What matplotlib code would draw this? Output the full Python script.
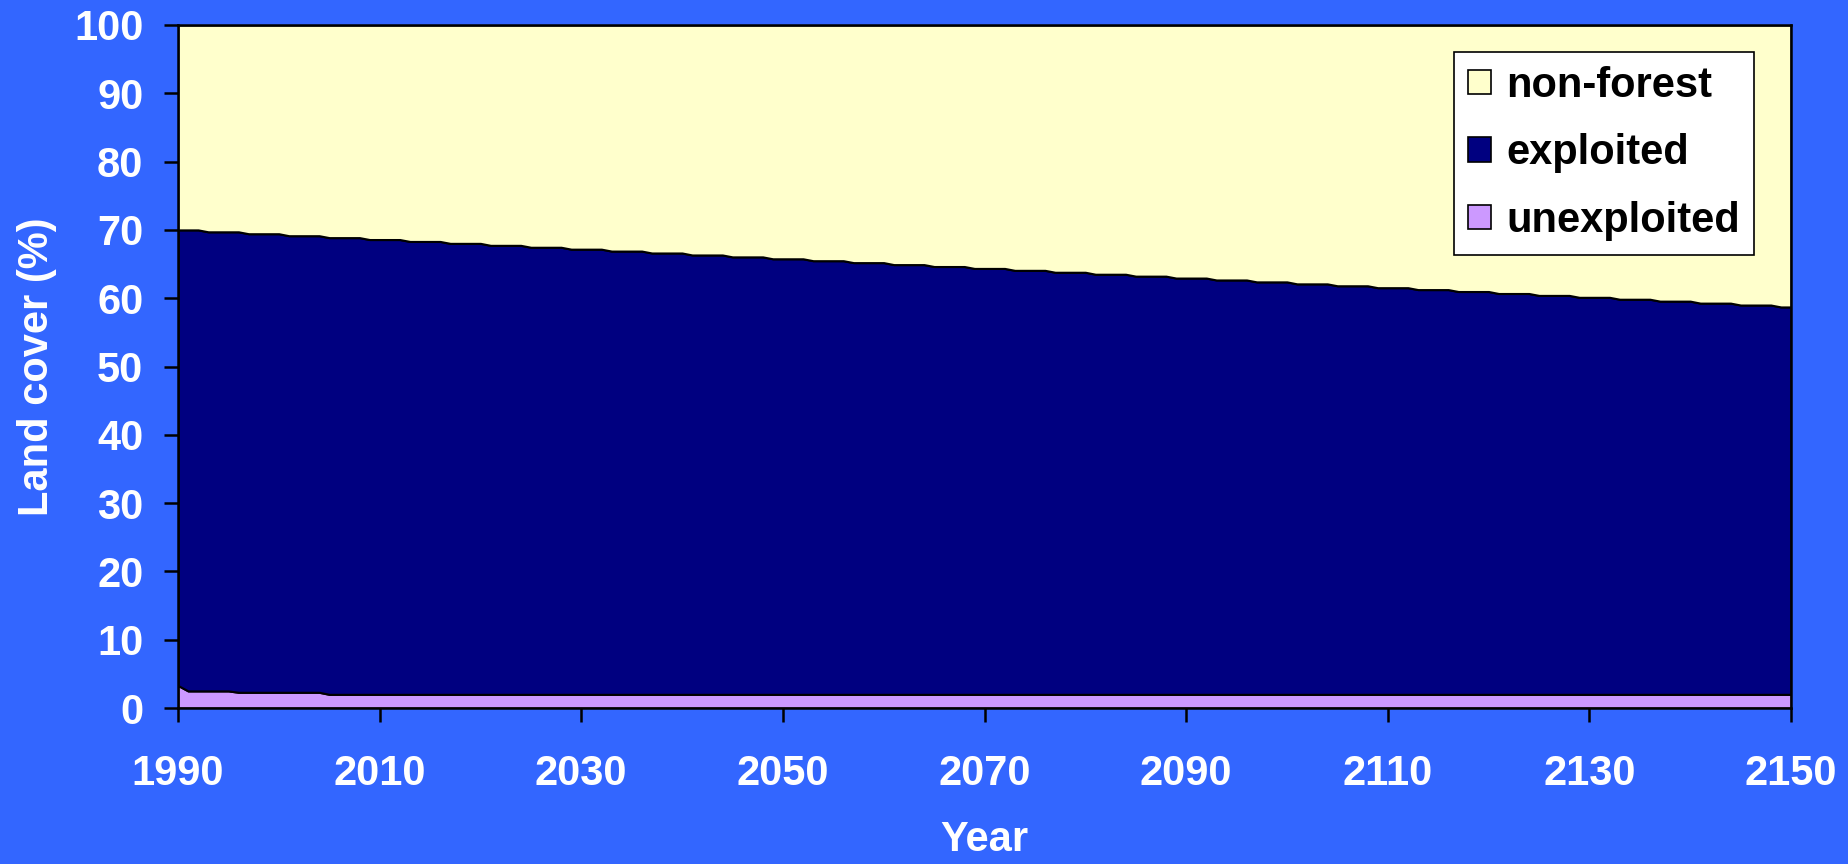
import numpy as np
import matplotlib
matplotlib.use("Agg")
import matplotlib.pyplot as plt
from matplotlib.patches import Patch

# Land cover data (%)
# total forest (unexploited + exploited) holds for blocks of years
block_starts = [1990, 1993, 1997, 2001, 2005, 2009, 2013, 2017, 2021, 2025,
                2029, 2033, 2037, 2041, 2045, 2049, 2053, 2057, 2061, 2065,
                2069, 2073, 2077, 2081, 2085, 2089, 2093, 2097, 2101, 2105,
                2109, 2113, 2117, 2121, 2125, 2129, 2133, 2137, 2141, 2145,
                2149]
forest_total = [70.00, 69.72, 69.44, 69.15, 68.87, 68.59, 68.31, 68.03, 67.74, 67.46,
                67.18, 66.90, 66.62, 66.33, 66.05, 65.77, 65.49, 65.21, 64.92, 64.64,
                64.36, 64.08, 63.80, 63.51, 63.23, 62.95, 62.67, 62.39, 62.10, 61.82,
                61.54, 61.26, 60.98, 60.69, 60.41, 60.13, 59.85, 59.57, 59.28, 59.00,
                58.72]
# unexploited forest per block of years
unexp_starts = [1990, 1991, 1996, 2005]
unexp_values = [3.3, 2.5, 2.3, 2.0]
last_year = 2150

series_names = ["non-forest", "exploited", "unexploited"]
series_colors = {"non-forest": "#FFFFCC", "exploited": "#000080", "unexploited": "#CC99FF"}
bg_color = "#3366FF"

years = np.arange(1990, last_year + 1)

def expand(starts, values):
    # hold each value from its start year until the next block starts
    idx = np.searchsorted(starts, years, side="right") - 1
    return np.array(values)[idx]

total = expand(block_starts, forest_total)
unexploited = expand(unexp_starts, unexp_values)
exploited = total - unexploited
nonforest = 100 - total

plt.rcParams["font.family"] = ["Liberation Sans", "DejaVu Sans"]
plt.rcParams["font.weight"] = "bold"

W, H = 1848, 864
fig = plt.figure(figsize=(W / 100, H / 100), dpi=100, facecolor=bg_color)
ax = fig.add_axes([178 / W, 1 - 708 / H, (1791 - 178) / W, (708 - 25) / H])

edge = dict(edgecolor="black", linewidth=1.5)
ax.fill_between(years, 0, unexploited, facecolor=series_colors["unexploited"], **edge)
ax.fill_between(years, unexploited, unexploited + exploited,
                facecolor=series_colors["exploited"], **edge)
ax.fill_between(years, unexploited + exploited, 100,
                facecolor=series_colors["non-forest"], **edge)

ax.set_xlim(1990, 2150)
ax.set_ylim(0, 100)
ax.set_xticks(np.arange(1990, 2151, 20))
ax.set_yticks(np.arange(0, 101, 10))

for s in ax.spines.values():
    s.set_linewidth(1.8)
    s.set_color("black")

ax.tick_params(axis="both", colors="black", length=10, width=1.8, direction="out")
ax.tick_params(axis="x", labelsize=30, labelcolor="white", pad=23)
ax.tick_params(axis="y", labelsize=30, labelcolor="white", pad=15)
for lbl in ax.get_xticklabels() + ax.get_yticklabels():
    lbl.set_fontweight("bold")

ax.set_xlabel("Year", fontsize=30, fontweight="bold", color="white", labelpad=19)
ax.set_ylabel("Land cover (%)", fontsize=30, fontweight="bold", color="white", labelpad=12)

handles = [Patch(facecolor=series_colors[n], edgecolor="black", linewidth=1.2, label=n)
           for n in series_names]
leg = ax.legend(handles=handles, loc="upper right", bbox_to_anchor=(0.977, 0.961),
                borderaxespad=0, fontsize=30, frameon=True, fancybox=False,
                framealpha=1, edgecolor="black", handlelength=0.53, handleheight=0.53,
                handletextpad=0.37, labelspacing=0.66, borderpad=0.34)
leg.get_frame().set_linewidth(1.2)
for t in leg.get_texts():
    t.set_fontweight("bold")

fig.savefig("out.png", dpi=100, facecolor=bg_color)
